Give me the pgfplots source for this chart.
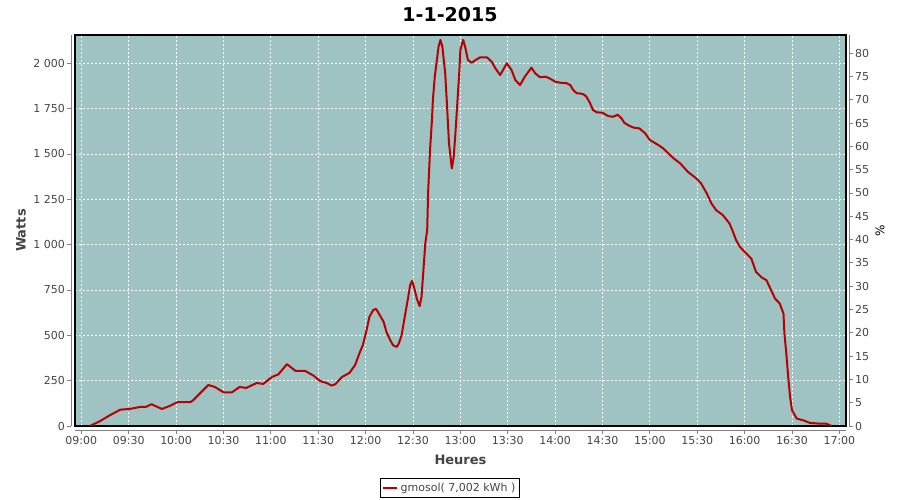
\documentclass[border=0pt]{standalone}
\usepackage{pgfplots}
\pgfplotsset{compat=1.18}
\usepackage{fontspec}
\setmainfont{DejaVu Sans}
\definecolor{bgteal}{RGB}{158,195,194}
\definecolor{linered}{RGB}{185,0,0}
\definecolor{txtgray}{RGB}{68,68,68}
\definecolor{axgray}{RGB}{128,128,128}
\begin{document}
\begin{tikzpicture}
\useasboundingbox (0,0) rectangle (900bp,500bp);
% main plot area
\begin{axis}[
  at={(75bp,74bp)}, anchor=south west,
  scale only axis, width=771bp, height=391bp,
  xmin=8.933, xmax=17.07, ymin=0, ymax=2156,
  axis background/.style={fill=bgteal},
  xtick={9,9.5,...,17}, ytick={0,250,...,2000},
  xticklabels={}, yticklabels={},
  major tick length=0pt, tick style={draw=none},
  grid=major, grid style={white, dash pattern=on 2bp off 2bp, line width=0.8bp},
  axis line style={black, line width=1.2bp},
  title={1-1-2015},
  title style={at={(axis description cs:0.4864,1.0375)}, anchor=center, font=\bfseries\fontsize{19bp}{22bp}\selectfont, text=black},
  legend style={at={(axis description cs:0.4864,-0.159)}, anchor=center, draw=black, line width=0.8bp,
    font=\fontsize{11bp}{13bp}\selectfont, text=txtgray, inner sep=1.5bp, outer sep=0pt,
    nodes={inner sep=3bp}},
  legend image code/.code={\draw[#1, line width=2bp] (0bp,0bp) -- (14bp,0bp);},
]
\addplot[linered, line width=2bp, line join=round] coordinates {
(9.09,0) (9.20,28) (9.30,59) (9.41,90) (9.51,94) (9.62,105) (9.68,105) (9.74,120)
(9.85,94) (9.93,110) (10.01,131) (10.15,131) (10.18,142) (10.34,226) (10.41,215)
(10.50,186) (10.59,186) (10.67,215) (10.74,210) (10.85,237) (10.92,232) (11.01,270)
(11.08,285) (11.17,341) (11.26,304) (11.36,304) (11.45,278) (11.52,248) (11.59,237)
(11.64,223) (11.68,230) (11.75,270) (11.83,293) (11.89,337) (11.94,408) (11.97,445)
(12.01,528) (12.04,602) (12.08,639) (12.11,646) (12.15,611) (12.19,574) (12.22,519)
(12.26,473) (12.29,445) (12.33,436) (12.35,455) (12.38,501) (12.41,593) (12.45,712)
(12.47,777) (12.49,800) (12.51,767) (12.54,703) (12.57,661) (12.59,712) (12.61,859)
(12.63,1007) (12.65,1080) (12.66,1291) (12.68,1522) (12.70,1687) (12.71,1798)
(12.73,1926) (12.75,2009) (12.77,2092) (12.79,2129) (12.81,2092) (12.84,1945)
(12.86,1760) (12.88,1559) (12.90,1466) (12.91,1420) (12.93,1485) (12.95,1632)
(12.97,1798) (12.99,1963) (13.00,2074) (13.03,2129) (13.05,2092) (13.08,2018)
(13.12,2003) (13.16,2018) (13.21,2033) (13.28,2033) (13.33,2009) (13.37,1972)
(13.42,1935) (13.45,1963) (13.49,2000) (13.54,1963) (13.58,1908) (13.63,1880)
(13.68,1926) (13.75,1976) (13.79,1945) (13.84,1923) (13.90,1926) (13.94,1917)
(14.00,1899) (14.05,1893) (14.12,1890) (14.16,1880) (14.19,1853) (14.23,1834)
(14.26,1834) (14.30,1829) (14.33,1816) (14.37,1779) (14.40,1742) (14.44,1730)
(14.50,1727) (14.56,1709) (14.61,1705) (14.66,1716) (14.70,1697) (14.73,1672)
(14.78,1656) (14.83,1645) (14.89,1641) (14.95,1614) (15.00,1577) (15.09,1549)
(15.14,1531) (15.25,1476) (15.32,1448) (15.40,1402) (15.49,1365) (15.54,1338)
(15.60,1283) (15.65,1227) (15.70,1190) (15.77,1163) (15.84,1117) (15.87,1080)
(15.91,1025) (15.95,988) (16.00,960) (16.07,924) (16.12,850) (16.18,819)
(16.23,804) (16.28,749) (16.32,703) (16.37,676) (16.41,620) (16.42,510)
(16.44,400) (16.46,270) (16.48,160) (16.50,87) (16.55,41) (16.62,31)
(16.69,17) (16.79,13) (16.86,13) (16.92,0)
};
\addlegendentry{gmosol( 7,002 kWh )}
\end{axis}
% left axis (Watts)
\begin{axis}[
  at={(71bp,74bp)}, anchor=south west,
  scale only axis, width=771bp, height=391bp,
  xmin=0, xmax=1, ymin=0, ymax=2156,
  axis x line=none, axis y line*=left,
  axis line style={axgray, line width=1bp, -},
  tick style={axgray, line width=0.8bp}, tick align=outside, major tick length=4bp,
  ytick={0,250,500,750,1000,1250,1500,1750,2000},
  yticklabels={0,250,500,750,1 000,1 250,1 500,1 750,2 000},
  yticklabel style={font=\fontsize{11bp}{13bp}\selectfont, text=txtgray, inner sep=2bp},
  ylabel={Watts},
  every axis y label/.style={at={(axis description cs:-0.0649,0.5)}, anchor=center, rotate=90,
    font=\bfseries\fontsize{13bp}{15bp}\selectfont, text=txtgray},
]
\end{axis}
% right axis (%)
\begin{axis}[
  at={(849bp,74bp)}, anchor=south east,
  scale only axis, width=771bp, height=391bp,
  xmin=0, xmax=1, ymin=0, ymax=83.9,
  axis x line=none, axis y line*=right,
  axis line style={axgray, line width=1bp, -},
  tick style={axgray, line width=0.8bp}, tick align=outside, major tick length=4bp,
  ytick={0,5,...,80},
  yticklabels={0,5,10,15,20,25,30,35,40,45,50,55,60,65,70,75,80},
  yticklabel style={font=\fontsize{11bp}{13bp}\selectfont, text=txtgray, inner sep=2bp},
  ylabel={\%},
  every axis y label/.style={at={(axis description cs:1.0402,0.5)}, anchor=center, rotate=90,
    font=\fontsize{12bp}{14bp}\selectfont, text=black},
]
\end{axis}
% bottom axis (Heures)
\begin{axis}[
  at={(75bp,70bp)}, anchor=south west,
  scale only axis, width=771bp, height=391bp,
  xmin=8.933, xmax=17.07, ymin=0, ymax=1,
  axis y line=none, axis x line*=bottom,
  axis line style={axgray, line width=1bp, -},
  tick style={axgray, line width=0.8bp}, tick align=outside, major tick length=4bp,
  xtick={9,9.5,...,17},
  xticklabels={09:00,09:30,10:00,10:30,11:00,11:30,12:00,12:30,13:00,13:30,14:00,14:30,15:00,15:30,16:00,16:30,17:00},
  xticklabel style={font=\fontsize{11bp}{13bp}\selectfont, text=txtgray, inner sep=2bp},
  xlabel={Heures},
  every axis x label/.style={at={(axis description cs:0.5,-0.0767)}, anchor=center,
    font=\bfseries\fontsize{13bp}{15bp}\selectfont, text=txtgray},
]
\end{axis}
\end{tikzpicture}
\end{document}
